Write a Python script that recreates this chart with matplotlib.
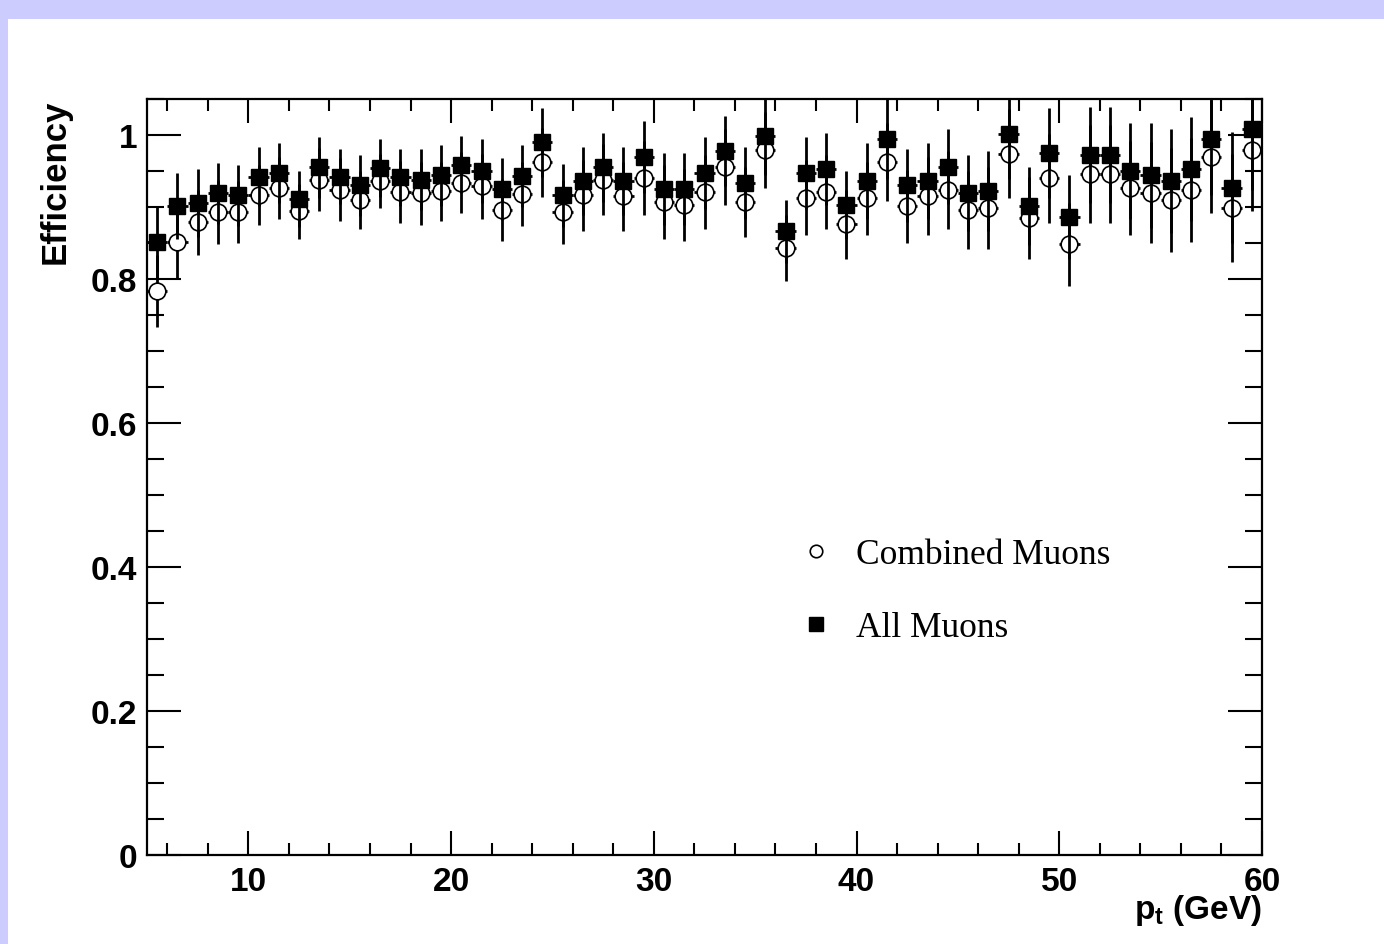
import matplotlib
matplotlib.use("Agg")
import matplotlib.pyplot as plt
from matplotlib.ticker import MultipleLocator, FuncFormatter
from matplotlib.lines import Line2D
from matplotlib.patches import Rectangle

plt.rcParams['mathtext.fontset'] = 'custom'
plt.rcParams['mathtext.rm'] = 'Liberation Sans'
plt.rcParams['mathtext.bf'] = 'Liberation Sans:bold'

pt_centers = [5.5, 6.5, 7.5, 8.5, 9.5, 10.5, 11.5, 12.5, 13.5, 14.5, 15.5,
              16.5, 17.5, 18.5, 19.5, 20.5, 21.5, 22.5, 23.5, 24.5, 25.5, 26.5,
              27.5, 28.5, 29.5, 30.5, 31.5, 32.5, 33.5, 34.5, 35.5, 36.5, 37.5,
              38.5, 39.5, 40.5, 41.5, 42.5, 43.5, 44.5, 45.5, 46.5, 47.5, 48.5,
              49.5, 50.5, 51.5, 52.5, 53.5, 54.5, 55.5, 56.5, 57.5, 58.5, 59.5]
bin_halfwidth = 0.5

all_eff = [0.851, 0.901, 0.906, 0.919, 0.916, 0.942, 0.947, 0.911, 0.955, 0.942, 0.930,
           0.954, 0.941, 0.938, 0.944, 0.959, 0.950, 0.925, 0.943, 0.990, 0.916, 0.936,
           0.955, 0.936, 0.969, 0.925, 0.925, 0.947, 0.978, 0.933, 0.999, 0.866, 0.947,
           0.953, 0.903, 0.936, 0.995, 0.930, 0.936, 0.956, 0.919, 0.922, 1.001, 0.901,
           0.975, 0.886, 0.972, 0.972, 0.950, 0.944, 0.936, 0.953, 0.994, 0.927, 1.008]
all_err = [0.050, 0.046, 0.047, 0.042, 0.043, 0.041, 0.042, 0.039, 0.042, 0.038, 0.042,
           0.040, 0.039, 0.042, 0.042, 0.040, 0.044, 0.043, 0.043, 0.048, 0.044, 0.047,
           0.048, 0.047, 0.050, 0.050, 0.050, 0.050, 0.049, 0.050, 0.055, 0.044, 0.050,
           0.050, 0.047, 0.053, 0.056, 0.051, 0.053, 0.052, 0.053, 0.056, 0.062, 0.054,
           0.063, 0.058, 0.067, 0.067, 0.067, 0.073, 0.072, 0.072, 0.078, 0.077, 0.084]

comb_eff = [0.783, 0.851, 0.879, 0.893, 0.893, 0.917, 0.927, 0.894, 0.938, 0.924, 0.910,
            0.936, 0.921, 0.919, 0.922, 0.934, 0.929, 0.896, 0.918, 0.962, 0.893, 0.916,
            0.938, 0.915, 0.940, 0.907, 0.903, 0.921, 0.956, 0.907, 0.979, 0.843, 0.913,
            0.921, 0.876, 0.912, 0.963, 0.901, 0.915, 0.924, 0.896, 0.899, 0.974, 0.885,
            0.940, 0.848, 0.946, 0.946, 0.926, 0.920, 0.910, 0.924, 0.970, 0.899, 0.979]
comb_err = [0.050, 0.050, 0.045, 0.045, 0.043, 0.042, 0.043, 0.038, 0.044, 0.044, 0.040,
            0.037, 0.043, 0.044, 0.041, 0.042, 0.045, 0.043, 0.045, 0.048, 0.045, 0.049,
            0.049, 0.048, 0.051, 0.051, 0.050, 0.051, 0.053, 0.048, 0.053, 0.046, 0.052,
            0.051, 0.048, 0.051, 0.054, 0.051, 0.054, 0.054, 0.054, 0.057, 0.062, 0.057,
            0.062, 0.058, 0.068, 0.068, 0.065, 0.070, 0.072, 0.072, 0.078, 0.075, 0.084]

legend_labels = ["Combined Muons", "All Muons"]

W, H = 1384, 945
fig = plt.figure(figsize=(W / 100, H / 100), dpi=100)
fig.patch.set_facecolor('white')
# lavender slide frame
lav = '#ccccff'
fig.patches.append(Rectangle((0, 1 - 20 / H), 1, 20 / H, transform=fig.transFigure,
                             facecolor=lav, edgecolor='none', zorder=0))
fig.patches.append(Rectangle((0, 0), 8 / W, 1, transform=fig.transFigure,
                             facecolor=lav, edgecolor='none', zorder=0))

ax = fig.add_axes([147 / W, 1 - 856 / H, (1262 - 147) / W, (856 - 100) / H])

xerr = [bin_halfwidth] * len(pt_centers)
ax.errorbar(pt_centers, comb_eff, yerr=comb_err, xerr=xerr, fmt='o', color='black',
            mfc='white', mec='black', mew=1.2, ms=12, elinewidth=2.0, capsize=0, zorder=3)
ax.errorbar(pt_centers, all_eff, yerr=all_err, xerr=xerr, fmt='s', color='black',
            mfc='black', mec='black', ms=11.5, elinewidth=2.0, capsize=0, zorder=4)

ax.set_xlim(5, 60)
ax.set_ylim(0, 1.05)

ax.xaxis.set_major_locator(MultipleLocator(10))
ax.xaxis.set_minor_locator(MultipleLocator(2))
ax.yaxis.set_major_locator(MultipleLocator(0.2))
ax.yaxis.set_minor_locator(MultipleLocator(0.05))
ax.yaxis.set_major_formatter(FuncFormatter(lambda v, p: '%g' % round(v, 3)))

ax.tick_params(axis='both', which='both', direction='in', top=True, right=True,
               width=1.5, colors='black')
ax.tick_params(axis='x', which='major', length=17, pad=8)
ax.tick_params(axis='x', which='minor', length=8.5)
ax.tick_params(axis='y', which='major', length=24.5, pad=7)
ax.tick_params(axis='y', which='minor', length=12)
for lab in ax.get_xticklabels() + ax.get_yticklabels():
    lab.set_fontfamily('Liberation Sans')
    lab.set_fontweight('bold')
    lab.set_fontsize(24)
for sp in ax.spines.values():
    sp.set_linewidth(1.6)

ax.set_ylabel('Efficiency', loc='top', fontfamily='Liberation Sans',
              fontweight='bold', fontsize=25)
ax.yaxis.set_label_coords(-0.068, 1.0)
ax.set_xlabel(r'$\mathbf{p_{t}}$ (GeV)', loc='right', fontfamily='Liberation Sans',
              fontweight='bold', fontsize=24)
ax.xaxis.set_label_coords(1.0, -0.049)

handles = [Line2D([], [], marker='o', ls='none', mfc='none', mec='black', mew=1.2, ms=9),
           Line2D([], [], marker='s', ls='none', mfc='black', mec='black', ms=9.5)]
ax.legend(handles, legend_labels, loc='center left', bbox_to_anchor=(0.584, 0.349),
          frameon=False, prop={'family': 'Liberation Serif', 'size': 25.5},
          handlelength=1.0, handletextpad=0.63, labelspacing=1.13, borderpad=0,
          borderaxespad=0)

fig.savefig('out.png', dpi=100)
